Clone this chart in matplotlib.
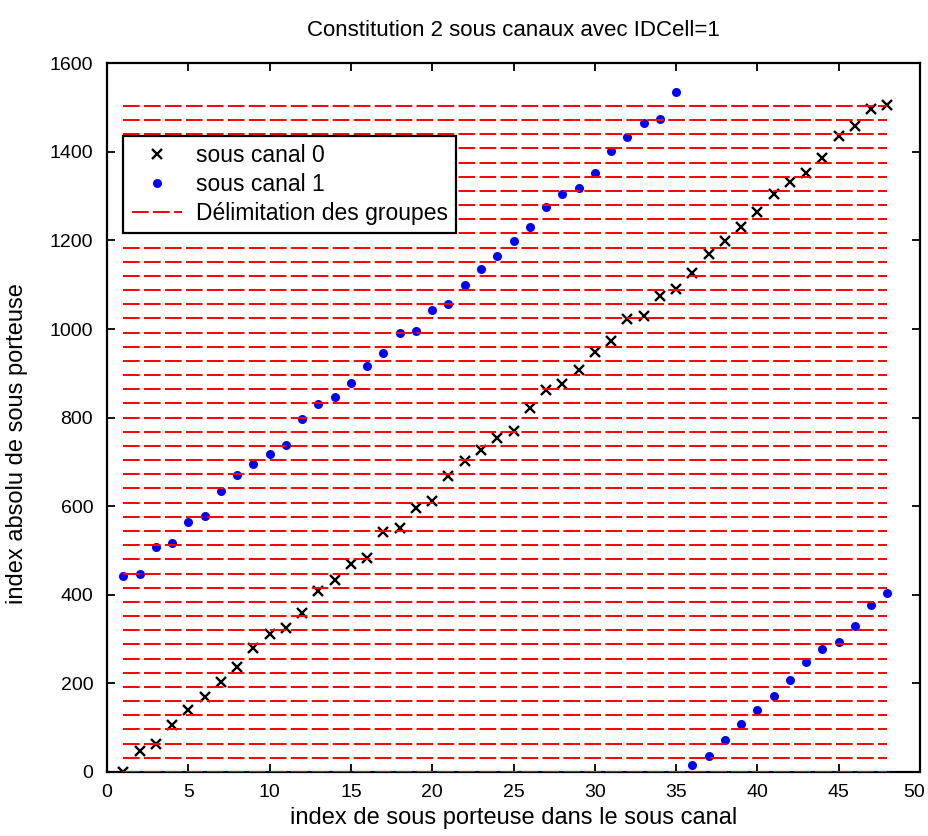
import matplotlib
matplotlib.use("Agg")
import matplotlib.pyplot as plt
import matplotlib.transforms as mtransforms

plt.rcParams['font.family'] = ['Liberation Sans', 'DejaVu Sans']
plt.rcParams['lines.scale_dashes'] = False

# ---- data ----
subcarrier_idx = list(range(1, 49))
sous_canal_0 = [0, 48, 64, 105, 141, 170, 202, 236, 281, 311, 324, 358, 408, 433, 469, 484,
                541, 550, 597, 612, 669, 703, 727, 754, 770, 822, 863, 877, 907, 949, 973, 1023,
                1030, 1075, 1090, 1127, 1170, 1199, 1231, 1264, 1306, 1333, 1352, 1386, 1436,
                1459, 1496, 1506]
sous_canal_1 = [442, 448, 507, 518, 565, 578, 634, 671, 695, 719, 738, 796, 831, 846, 878, 916,
                945, 990, 995, 1044, 1056, 1099, 1136, 1164, 1198, 1230, 1276, 1306, 1319, 1352,
                1403, 1433, 1465, 1475, 1535, 15, 36, 72, 109, 139, 171, 208, 249, 278, 293, 330,
                376, 405]
group_bounds = [0, 32, 64, 96, 128, 160, 192, 224, 256, 288, 320, 352, 384, 416, 448, 480,
                512, 544, 576, 608, 640, 672, 704, 736, 768, 800, 832, 864, 896, 928, 960, 992,
                1024, 1056, 1088, 1120, 1152, 1184, 1216, 1248, 1280, 1312, 1344, 1376, 1408,
                1440, 1472, 1504]
x_ticks = [0, 5, 10, 15, 20, 25, 30, 35, 40, 45, 50]
y_ticks = [0, 200, 400, 600, 800, 1000, 1200, 1400, 1600]

title = "Constitution 2 sous canaux avec IDCell=1"
xlabel = "index de sous porteuse dans le sous canal"
ylabel = "index absolu de sous porteuse"
labels = ["sous canal 0", "sous canal 1", "Délimitation des groupes"]

fig = plt.figure(figsize=(9.29, 8.36), dpi=100)
ax = fig.add_axes([0.1152, 0.0766, 0.8751, 0.8477])

ax.plot(subcarrier_idx, sous_canal_0, linestyle='none', marker='x', color='black',
        markersize=7, markeredgewidth=1.7, label=labels[0], zorder=2)
ax.plot(subcarrier_idx, sous_canal_1, linestyle='none', marker='o', color=(0, 0, 1),
        markersize=6.5, markeredgewidth=0, label=labels[1], zorder=2)
for i, yb in enumerate(group_bounds):
    ax.plot([subcarrier_idx[0], subcarrier_idx[-1]], [yb, yb], color=(1, 0, 0),
            linewidth=1.4, dashes=(12, 3.1), label=labels[2] if i == 0 else None, zorder=3)

ax.set_xlim(0, 50)
ax.set_ylim(0, 1600)
ax.set_xticks(x_ticks)
ax.set_yticks(y_ticks)
ax.tick_params(direction='in', length=6, width=1.3, top=True, right=True,
               labelsize=14)
ax.tick_params(axis='y', pad=10)
ax.tick_params(axis='x', pad=9)
for s in ax.spines.values():
    s.set_linewidth(1.6)

# keep the last x tick label inside the canvas
last_lbl = ax.get_xticklabels()[-1]
last_lbl.set_transform(last_lbl.get_transform() +
                       mtransforms.ScaledTranslation(-4 / 72, 0, fig.dpi_scale_trans))

ax.set_title(title, fontsize=16, pad=20)
ax.set_xlabel(xlabel, fontsize=17, labelpad=4)
ax.set_ylabel(ylabel, fontsize=17)
ax.yaxis.set_label_coords(-0.097, 0.464)

leg = ax.legend(loc='upper left', bbox_to_anchor=(0.0197, 0.8974), borderaxespad=0,
                fontsize=16.5, frameon=True, fancybox=False, edgecolor='black',
                framealpha=1, handlelength=2.2, handletextpad=0.6, labelspacing=0.25,
                borderpad=0.37)
leg.get_frame().set_linewidth(1.6)

fig.savefig("out.png", dpi=100)
